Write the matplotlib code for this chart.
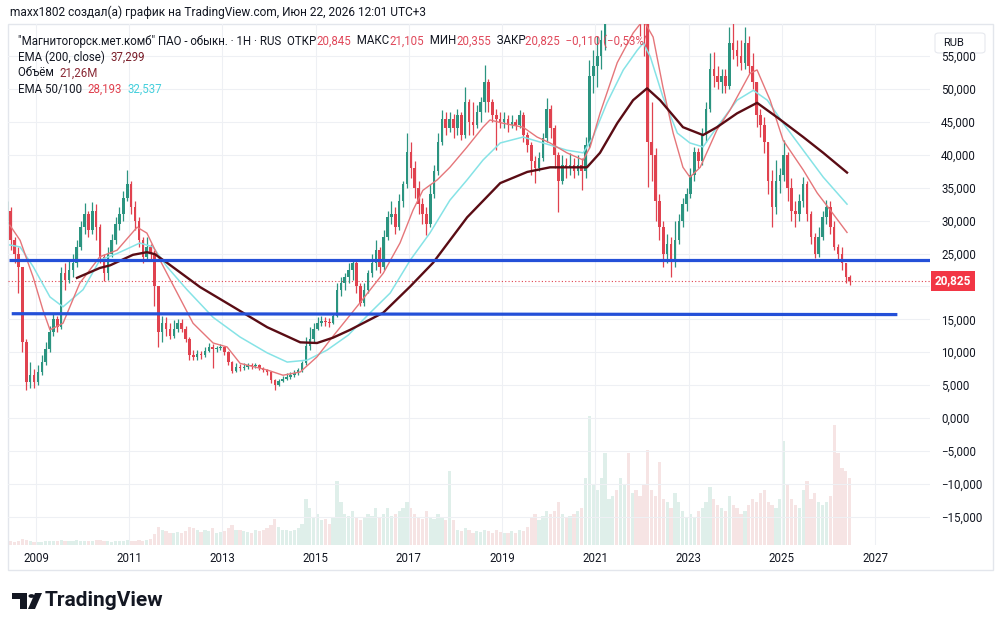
import numpy as np
import pandas as pd
import matplotlib
matplotlib.use('Agg')
import matplotlib.pyplot as plt
from matplotlib.patches import Polygon, Circle, FancyBboxPatch, Rectangle
from matplotlib.ticker import FixedLocator, FuncFormatter
from matplotlib.transforms import blended_transform_factory

plt.rcParams['font.family'] = ['Roboto', 'DejaVu Sans']

# monthly candles, MAGN (RUB), May 2008 .. Jun 2026
first_open = 30.0
close = [31.5, 27, 25, 23, 11.5, 5.5, 6.5, 5.5,
         7, 8.5, 10.5, 13, 15, 13.8, 22, 21, 22.5, 23.5, 26, 29,
         31, 28.5, 31.5, 29, 24.5, 22, 25, 27, 29.5, 31, 33.5, 35.5,
         32, 30, 27, 24.5, 26, 25, 20, 13, 14.5, 13.5, 12.5, 13.5,
         14.5, 13.5, 12, 9.5, 9.3, 9.8, 9.5, 10.2, 10.8, 10.5, 10.6, 10.8,
         10, 8.5, 7.2, 7.8, 7.6, 7.8, 8.1, 7.9, 8, 7.6, 7.3, 7,
         5.8, 5, 5.6, 6, 6.2, 6.5, 6.8, 7.3, 8.3, 11, 12, 13.5,
         14.5, 14.8, 14.6, 14.4, 15.5, 19.5, 20.5, 21.5, 22.5, 23.5, 20, 17.5,
         19.5, 22, 23.5, 25.5, 23, 27.5, 30.5, 31, 29, 33, 35.5, 40.5,
         38, 35, 32.5, 31, 29.5, 34, 37.5, 42, 45.5, 44, 45.5, 44,
         46, 43, 48, 45, 44.5, 46.5, 48, 51, 48, 46, 45.5, 45,
         45.5, 44.5, 45, 44.5, 46, 43, 41.5, 39, 38, 39.5, 42.5, 47,
         44, 40, 36, 38.5, 38, 38.5, 37.5, 38.5, 37.5, 41.5, 52, 53.5,
         55, 57.5, 62, 64, 66, 64, 67, 69, 66, 68, 64, 62,
         60, 42, 40, 33, 29, 25, 26.5, 24, 27, 30, 32.5, 34,
         37, 40.5, 39, 43, 47, 53, 52, 51, 52, 50.5, 57, 56,
         55, 54, 57, 53.5, 51, 46, 44.5, 42, 36, 32, 36, 37,
         40, 35, 31.5, 31, 33, 35.5, 31, 27.5, 25, 27.5, 30.5, 32,
         29, 26, 25, 23.5, 21.5, 20.825]
high = [33, 32, 27.5, 26, 23, 12, 8.5, 7.5,
        8, 9.5, 11.5, 14, 16, 15.5, 23, 23.5, 24, 25, 27, 30,
        32.7, 31.5, 32.8, 32.5, 29.5, 25, 26, 28, 30.5, 32, 34.5, 37.7,
        36, 33, 30.5, 27.5, 27.5, 26.5, 25.5, 17, 15.5, 15.3, 14.5, 14.9,
        15, 15, 14, 12.3, 10.3, 10.3, 10.2, 10.8, 11.4, 11.2, 11, 11.3,
        10.8, 10.2, 8.6, 8.3, 8.2, 8.3, 8.4, 8.4, 8.4, 8.2, 7.8, 7.5,
        7.1, 6, 6, 6.4, 6.8, 7, 7.3, 7.6, 8.6, 12.3, 13.8, 14.5,
        15.3, 15.5, 15.3, 15.2, 16, 20.5, 21.5, 22, 23.5, 24, 23.8, 20.5,
        20.5, 22.5, 25, 27, 26, 28.5, 31.5, 33, 32, 34, 36, 43.3,
        42, 39, 36, 33.5, 32, 35.5, 38.5, 43.3, 46.8, 46.5, 46.5, 46.2,
        47, 46.5, 50.3, 48.5, 48, 47.5, 48.8, 53.6, 51.5, 48.5, 47, 46.5,
        46.5, 46, 46, 45.5, 46.8, 46.5, 43.5, 42, 39.8, 40.5, 43.3, 48.6,
        47.5, 44.5, 40.5, 40, 39.5, 40.3, 39.5, 40, 39.5, 42.7, 54.4, 56,
        58, 59, 64, 66, 68, 67, 70, 72, 70, 71, 69, 66,
        64, 62, 48, 41, 34, 30, 28, 27.5, 30, 31, 33.5, 35,
        38, 41.2, 41, 44, 48, 55.5, 55.6, 53.5, 53, 53, 59.4, 60.5,
        57.5, 57.4, 59.4, 58, 55.5, 51, 47, 45.7, 42, 37.7, 39.2, 38,
        42.2, 40.5, 36.5, 33, 34, 36.6, 36, 31.5, 28.1, 29, 31.5, 33.1,
        33, 30, 26.5, 26, 23.5, 21.8]
low = [29.5, 25.5, 23.5, 19, 10, 4.3, 4.5, 4.6,
       5, 6.5, 8, 10, 12.5, 13, 13.5, 19.5, 20.5, 21.5, 23, 25.5,
       28, 27.5, 28, 27, 23.5, 20.8, 21, 24.5, 26.5, 28.5, 30, 33,
       31, 28.5, 26, 23.5, 24, 24, 17, 10.8, 11.5, 12.5, 12, 12.2,
       13, 13, 11.5, 8.8, 8.8, 8.8, 9, 9.2, 10, 7.6, 10, 10.3,
       9.5, 8, 6.8, 7, 7.1, 7.3, 7.5, 7.5, 7.6, 7.3, 7, 6.5,
       5.3, 4.3, 4.8, 5.4, 5.8, 6, 6.3, 6.6, 7, 8, 10.3, 11.5,
       13.3, 14, 14, 13.8, 14.3, 15.3, 18.5, 19.5, 20.5, 21, 19, 17,
       17, 19, 21.5, 22.5, 22, 22.5, 27, 29.5, 28, 28.5, 32, 35,
       36.5, 33.5, 31, 29.5, 27.8, 29, 33.5, 37, 41.5, 43, 43.5, 42.5,
       43, 42.2, 42.5, 43, 43, 44, 45, 46.5, 46.5, 45, 40.7, 44,
       44, 43.5, 44, 43.8, 44, 42, 40.5, 37, 35.7, 37.5, 39, 42,
       42.5, 38, 31.3, 35.5, 36.5, 37, 36.5, 37, 34.6, 36.5, 41, 49.4,
       50.3, 53, 56, 60, 62, 61, 63, 65, 62, 64, 61, 58,
       55, 35.1, 36, 30, 27, 23, 23.5, 21.4, 23, 26.5, 29, 31.5,
       33.5, 36, 38, 38.5, 42, 46.5, 50.3, 50, 49.4, 49.4, 50, 54.5,
       53.5, 52.9, 53, 52.5, 50, 44.2, 42.7, 40.3, 34, 29, 31, 34.2,
       36, 33, 30, 29, 30, 32, 30, 26.5, 24.3, 24.5, 27, 29.5,
       28, 25.5, 24, 22.5, 20.5, 20.2]
volume = [1.5, 1.2, 1.0, 1.3, 1.8, 1.5, 1.2, 1.0,
          1.0, 1.1, 1.2, 1.3, 1.4, 1.2, 1.6, 1.3, 1.2, 1.4, 1.5, 1.3,
          1.4, 1.2, 1.3, 1.5, 1.6, 1.4, 1.2, 1.1, 1.2, 1.3, 1.4, 1.5,
          1.4, 1.3, 1.5, 1.4, 1.6, 2.0, 3.5, 6.0, 5.0, 4.5, 4.0, 3.8,
          4.2, 4.0, 4.5, 6.0, 5.5, 4.8, 4.2, 5.0, 4.5, 5.5, 4.0, 4.2,
          4.5, 5.5, 6.5, 5.0, 4.8, 4.5, 4.2, 4.0, 4.8, 4.5, 5.0, 5.5,
          6.5, 8.5, 6.0, 5.0, 4.8, 4.5, 5.0, 5.5, 7.0, 15.0, 12.0, 9.0,
          10.0, 8.0, 8.5, 7.0, 9.0, 21.0, 14.0, 10.0, 9.5, 11.0, 9.0, 8.0,
          9.0, 10.0, 9.5, 12.0, 9.0, 10.0, 12.0, 9.5, 10.0, 11.0, 12.0, 14.0,
          12.0, 10.0, 9.0, 8.5, 11.0, 9.0, 8.5, 10.0, 9.0, 8.0, 24.0, 8.0,
          5.0, 4.5, 5.5, 5.0, 4.0, 4.5, 4.2, 5.0, 4.5, 3.8, 5.0, 4.2,
          4.0, 3.8, 4.5, 4.0, 5.0, 4.5, 6.0, 9.0, 10.0, 8.0, 9.5, 11.0,
          10.0, 11.0, 14.0, 10.0, 9.0, 9.5, 10.0, 11.0, 12.0, 22.0, 42.0, 20.0,
          18.0, 22.0, 30.0, 15.0, 16.0, 18.0, 22.0, 20.0, 30.0, 17.0, 18.0, 16.0,
          20.0, 31.0, 18.0, 16.0, 27.0, 15.0, 14.0, 12.0, 17.0, 14.0, 11.0, 9.0,
          10.0, 9.0, 11.0, 12.0, 14.0, 19.0, 15.0, 13.0, 12.0, 11.0, 16.0, 13.0,
          12.0, 10.0, 11.0, 13.0, 15.0, 14.0, 17.0, 18.0, 14.0, 13.0, 12.0, 15.0,
          34.0, 20.0, 15.0, 13.0, 12.0, 18.0, 21.0, 15.0, 17.0, 14.0, 13.0, 14.0,
          16.0, 39.0, 30.0, 25.0, 24.0, 22.0]
months = pd.date_range('2008-05-01', periods=len(close), freq='MS')

# moving averages (decimal year, price)
ema200_t = [2009.88, 2010.37, 2010.59, 2011.08, 2011.38, 2011.55, 2011.81, 2012.52, 2013.23,
            2013.96, 2014.67, 2015.03, 2015.37, 2015.74, 2016.45, 2017.03, 2017.52, 2018.25,
            2018.96, 2019.54, 2020.03, 2020.82, 2021.10, 2021.47, 2021.81, 2022.11, 2022.39,
            2022.88, 2023.31, 2023.61, 2024.04, 2024.47, 2024.90, 2025.46, 2025.89, 2026.40]
ema200_v = [21.3, 22.8, 23.2, 24.8, 25.2, 24.9, 23.6, 19.9, 16.9,
            13.8, 11.5, 11.4, 12.2, 13.4, 16, 20, 23.6, 30.5,
            35.7, 37.4, 38.1, 38.1, 40.3, 44.8, 48.3, 50.1, 48.3,
            44.2, 43, 44.2, 46.3, 47.9, 45.7, 42.7, 40.3, 37.3]
ema50_t = [2008.44, 2008.66, 2008.94, 2009.15, 2009.30, 2009.58, 2009.94, 2010.37, 2010.74,
           2011.17, 2011.38, 2011.66, 2012.03, 2012.37, 2012.80, 2013.10, 2013.38, 2013.96,
           2014.30, 2014.67, 2015.03, 2015.37, 2015.95, 2016.45, 2016.81, 2017.09, 2017.30,
           2017.61, 2017.88, 2018.25, 2018.59, 2018.74, 2019.02, 2019.45, 2019.75, 2020.03,
           2020.39, 2020.74, 2020.89, 2021.10, 2021.47, 2021.81, 2022.03, 2022.24, 2022.45,
           2022.67, 2022.88, 2023.03, 2023.25, 2023.61, 2023.89, 2024.32, 2024.47, 2024.75,
           2025.03, 2025.46, 2025.76, 2026.04, 2026.40]
ema50_v = [29.3, 27, 21.4, 16.4, 13.4, 14.4, 20.5, 24.5, 25.5,
           29, 28.1, 24, 19, 14.4, 11.4, 10.8, 8.3, 7.3,
           6.5, 7, 9.3, 12.4, 17.5, 22, 26.6, 31.6, 34.6,
           36.2, 38.1, 41.2, 44.2, 45.3, 44.8, 44.2, 42.7, 41.8,
           40.3, 39.2, 41.2, 46.3, 54, 58.5, 60.5, 57.9, 50.3,
           43.3, 38.1, 36.6, 38.1, 43.8, 46.8, 52.4, 52.9, 48.3,
           42.2, 37.7, 34.2, 31.6, 28.2]
ema100_t = [2008.44, 2008.66, 2008.94, 2009.30, 2009.58, 2010.01, 2010.37, 2010.74, 2011.23,
            2011.51, 2011.81, 2012.24, 2012.80, 2013.38, 2013.96, 2014.39, 2014.82, 2015.24,
            2015.70, 2016.17, 2016.60, 2017.03, 2017.45, 2017.88, 2018.25, 2018.59, 2018.96,
            2019.45, 2019.88, 2020.39, 2020.74, 2020.95, 2021.25, 2021.60, 2021.90, 2022.03,
            2022.18, 2022.45, 2022.76, 2023.03, 2023.31, 2023.61, 2024.04, 2024.39, 2024.69,
            2025.03, 2025.46, 2025.89, 2026.40]
ema100_v = [26.3, 26, 23, 18.4, 16.9, 19.5, 24, 25, 26.6,
            26, 23, 19.5, 15.3, 12.3, 9.9, 8.5, 8.8, 10.3,
            12.6, 16, 19, 24, 28.1, 33.1, 36.2, 39.2, 41.8,
            42.7, 41.8, 40.7, 40.3, 42.7, 47.9, 52.9, 55.9, 57,
            54.9, 48.8, 43.3, 41.8, 41.2, 44.2, 48.3, 49.8, 48.3,
            44.8, 40.7, 36.6, 32.5]

# hand-drawn horizontal levels
level_t = [[2008.43, 2028.5], [2008.48, 2027.48]]
level_v = [[24.05, 24.05], [15.85, 15.72]]
last_price = 20.825

year_ticks = [2009, 2011, 2013, 2015, 2017, 2019, 2021, 2023, 2025, 2027]
price_ticks = [-15, -10, -5, 0, 5, 10, 15, 20, 25, 30, 35, 40, 45, 50, 55]
hidden_tick = 20  # covered by the last-price tag

header = 'maxx1802 создал(а) график на TradingView.com, Июн 22, 2026 12:01 UTC+3'
UP, DOWN = '#2b9480', '#e0424f'
RED_TXT = '#e0485a'
W, H = 1000, 629


def fx(x):
    return x / W


def fy(y):
    return 1 - y / H


def price_fmt(v, p):
    if abs(v - hidden_tick) < 1e-9:
        return ''
    return ('%.3f' % v).replace('.', ',').replace('-', '\u2212')


fig = plt.figure(figsize=(10, 6.29), dpi=100)
fig.patch.set_facecolor('white')

ax = fig.add_axes([fx(8), fy(545), (930 - 8) / W, (545 - 24) / H])
axv = ax.twinx()
ax.set_zorder(axv.get_zorder() + 1)
ax.patch.set_visible(False)

t = np.array([d.year + (d.month - 0.5) / 12 for d in months])
c = np.array(close)
o = np.r_[first_open, c[:-1]]
up = c >= o
cols = np.where(up, UP, DOWN)

# volume
vcols = np.where(up, '#dfefea', '#f6e4e4')
axv.bar(t, volume, width=0.07, color=vcols, lw=0)
axv.set_ylim(0, 170)
axv.set_yticks([])
for s in axv.spines.values():
    s.set_visible(False)

# candles
ax.vlines(t, low, high, colors=cols, lw=0.9, zorder=3)
ax.bar(t, np.maximum(np.abs(c - o), 0.15), bottom=np.minimum(c, o), width=0.055,
       color=cols, lw=0, zorder=3)

ax.plot(ema100_t, ema100_v, color='#86e3e6', lw=1.1, zorder=4)
ax.plot(ema50_t, ema50_v, color='#e5767a', lw=1.0, zorder=4)
ax.plot(ema200_t, ema200_v, color='#5a0c14', lw=1.7, zorder=5)

for lt, lv in zip(level_t, level_v):
    ax.plot(lt, lv, color='#2450d8', lw=2.3, zorder=6, solid_capstyle='butt')

ax.axhline(last_price, color='#e0424f', lw=0.8, ls=(0, (1, 2)), zorder=2)

ax.set_xlim(2008.40, 2028.18)
ax.set_ylim(-19.3, 59.88)
ax.xaxis.set_major_locator(FixedLocator(year_ticks))
ax.xaxis.set_major_formatter(FuncFormatter(lambda v, p: '%d' % round(v)))
ax.yaxis.set_major_locator(FixedLocator(price_ticks))
ax.yaxis.set_major_formatter(FuncFormatter(price_fmt))
ax.yaxis.tick_right()
ax.tick_params(axis='y', length=0, pad=8, labelsize=8.3, labelcolor='#131722')
ax.tick_params(axis='x', length=0, pad=5, labelsize=8.3, labelcolor='#131722')
ax.grid(True, color='#eef0f4', lw=0.8, zorder=0)
for s in ax.spines.values():
    s.set_visible(False)

# last price tag
tr = blended_transform_factory(ax.transAxes, ax.transData)
ax.text(1.005, last_price, '20,825', transform=tr, ha='left', va='center',
        color='white', fontsize=8.5, fontweight='bold', zorder=10,
        bbox=dict(boxstyle='square,pad=0.3', fc='#f23645', ec='none'))

# frame and RUB box
fig.add_artist(Rectangle((fx(8), fy(570)), (993 - 8) / W, (570 - 24) / H,
                         transform=fig.transFigure, fill=False, ec='#e3e6ec', lw=1))
fig.add_artist(FancyBboxPatch((fx(935), fy(53)), 50 / W, 20 / H,
                              boxstyle='round,pad=0,rounding_size=0.004',
                              transform=fig.transFigure, fc='white', ec='#e6e8ee', lw=0.8))
fig.text(fx(943), fy(43), 'RUB', fontsize=8, color='#131722', va='center')

# header and legend
fig.text(fx(10), fy(12), header, fontsize=8.6, color='#131722', va='center')

fig.canvas.draw()
rend = fig.canvas.get_renderer()


def pieces(x, y, parts, size=8.3):
    for txt, col in parts:
        tx = fig.text(fx(x), fy(y), txt, fontsize=size, color=col, va='center', zorder=20)
        x += tx.get_window_extent(rend).width


dark = '#131722'
pieces(18, 41, [('"Магнитогорск.мет.комб" ПАО - обыкн. · 1Н · RUS  ОТКР', dark), ('20,845', RED_TXT),
                ('  МАКС', dark), ('21,105', RED_TXT), ('  МИН', dark), ('20,355', RED_TXT),
                ('  ЗАКР', dark), ('20,825  \u22120,110 (\u22120,53%)', RED_TXT)])
pieces(18, 57, [('EMA (200, close)  ', dark), ('37,299', '#7a1e2a')])
pieces(18, 73, [('Объём  ', dark), ('21,26M', '#8a2a36')])
pieces(18, 89, [('EMA 50/100  ', dark), ('28,193', '#e0404e'), ('  ', dark), ('32,537', '#45cfdc')])

# TradingView logo
fig.add_artist(Polygon([(fx(12), fy(593)), (fx(27), fy(593)), (fx(27), fy(609)), (fx(20), fy(609)),
                        (fx(20), fy(599)), (fx(12), fy(599))], closed=True,
                       transform=fig.transFigure, fc='#131722', ec='none'))
fig.add_artist(Circle((fx(31.5), fy(596)), 3 / W, transform=fig.transFigure, fc='#131722', ec='none'))
fig.add_artist(Polygon([(fx(28), fy(609)), (fx(35), fy(609)), (fx(42), fy(593)), (fx(35), fy(593))],
                       closed=True, transform=fig.transFigure, fc='#131722', ec='none'))
fig.text(fx(45), fy(601), 'TradingView', fontsize=15, fontweight='bold', color='#131722', va='center')

fig.savefig('out.png', dpi=100)
